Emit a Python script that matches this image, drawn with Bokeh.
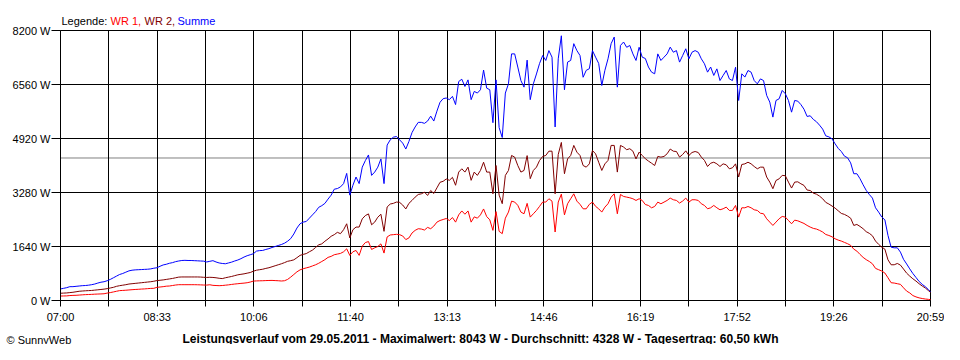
from bokeh.plotting import figure
from bokeh.models import Range1d, FixedTicker, ColumnDataSource, Label
from bokeh.embed import file_html
from bokeh.resources import INLINE

FONT = "Liberation Sans"

# time axis: minutes after 07:00, sampled every 3 minutes, last sample 20:59
MINUTES = list(range(0, 838, 3)) + [839]
END_MIN = 839

X_TICK_LABELS = ["07:00", "08:33", "10:06", "11:40", "13:13",
                 "14:46", "16:19", "17:52", "19:26", "20:59"]
Y_TICKS = [0, 1640, 3280, 4920, 6560, 8200]
Y_LABELS = ["0 W", "1640 W", "3280 W", "4920 W", "6560 W", "8200 W"]
AVERAGE = 4328

LEGEND_TEXTS = ["Legende:", "WR 1,", "WR 2,", "Summe"]
LEGEND_COLORS = ["black", "#ff0000", "#800000", "#0000ff"]
TITLE = ("Leistungsverlauf vom 29.05.2011 - Maximalwert: 8043 W - "
         "Durchschnitt: 4328 W - Tagesertrag: 60,50 kWh")
CREDIT = "\u00a9 SunnyWeb"

# WR 1 (red)
WR1 = [
    135, 138, 140, 150, 155, 158, 165, 172, 178, 182, 186, 192, 196, 200, 205, 225, 240, 260, 280, 300,
    306, 312, 320, 328, 335, 340, 347, 352, 360, 367, 370, 400, 410, 420, 435, 440, 455, 470, 480, 480,
    480, 480, 480, 480, 478, 475, 470, 468, 478,
    460, 455, 450, 455, 465, 475, 488, 500, 510, 520, 528, 540, 560, 590, 595, 598, 600, 605, 608, 610,
    605, 600, 592, 600, 640, 710, 790, 870, 930, 965, 990, 1015, 1050, 1085, 1130, 1185, 1240, 1310, 1340, 1390,
    1410, 1430, 1480, 1570, 1370, 1480, 1520,
    1370, 1650, 1760, 1790, 1550, 1600, 1640, 1720, 1440, 1930, 1990, 2000, 2010, 2000, 1960, 1850, 1900, 2050, 2130, 2180,
    2170, 2140, 2220, 2180, 2260, 2380, 2430, 2460, 2490, 2430, 2520, 2380, 2600, 2720, 2620, 2720, 2380, 2540, 2500, 2600,
    2780, 2550, 2450, 2130, 2700, 2100,
    2030, 2500, 2685, 3018, 2990, 2890, 2685, 2634, 2950, 2533, 2634, 2735, 2860, 2990, 2990, 3090, 3018, 2080, 2990, 3230,
    2600, 2938, 3090, 3240, 3018, 2920, 2785, 2785, 2920, 2990, 2860, 2785, 2685, 2836, 2938, 3140, 3240, 2634, 3220, 3160,
    3140, 3120, 3090, 3039, 3090, 3039,
    2915, 2887, 2815, 2855, 2988, 2938, 2988, 3039, 3110, 3060, 3039, 2960, 3020, 3110, 2988, 3060, 3060, 3039, 2938, 2887,
    2786, 2815, 2887, 2815, 2755, 2786, 2836, 2735, 2735, 2887, 2533, 2815, 2815, 2855, 2815, 2755, 2735, 2650, 2634, 2482,
    2381, 2280, 2381, 2482, 2553, 2533, 2431,
    2330, 2440, 2420, 2380, 2340, 2280, 2230, 2190, 2170, 2130, 2080, 2005, 1975, 1935, 1875, 1835, 1805, 1765, 1725, 1675,
    1560, 1500, 1400, 1310, 1240, 1185, 1115, 975, 935, 895, 835, 690, 540, 530, 510, 490, 385, 285, 230, 150,
    110, 80, 60, 45, 35, 25,
]

# WR 2 (dark red)
WR2 = [
    220, 225, 230, 240, 250, 265, 280, 288, 295, 300, 305, 315, 325, 335, 345, 360, 380, 400, 430, 450,
    465, 480, 500, 510, 520, 530, 540, 550, 560, 570, 585, 605, 615, 625, 640, 655, 670, 690, 710, 715,
    715, 715, 715, 715, 715, 712, 705, 700, 705,
    700, 690, 675, 665, 690, 710, 730, 755, 780, 795, 810, 830, 850, 890, 920, 935, 950, 975, 995, 1025,
    1055, 1085, 1115, 1150, 1190, 1210, 1235, 1300, 1370, 1400, 1425, 1480, 1530, 1610, 1690, 1720, 1800, 1870, 1950, 2000,
    2070, 2030, 2150, 2330, 1900, 2150, 2230,
    2230, 2480, 2580, 2630, 2300, 2380, 2530, 2620, 2100, 2840, 2930, 2950, 2990, 2980, 2900, 2780, 2950, 3040, 3140, 3220,
    3240, 3290, 3190, 3340, 3250, 3420, 3590, 3620, 3690, 3650, 3740, 3500, 3900, 4000, 3900, 4050, 3650, 3900, 3800, 3950,
    4200, 3900, 3900, 3240, 4100, 3200,
    2940, 3800, 3950, 4405, 4354, 4100, 3900, 3950, 4400, 3700, 3950, 4050, 4253, 4375, 4405, 4535, 4535, 3240, 4435, 4800,
    3850, 4300, 4405, 4710, 4505, 4405, 4100, 4050, 4150, 4555, 4455, 4200, 3950, 4150, 4253, 4710, 4710, 3900, 4710, 4660,
    4580, 4610, 4535, 4300, 4505, 4405,
    4305, 4235, 4170, 4100, 4375, 4354, 4375, 4456, 4600, 4535, 4525, 4355, 4435, 4545, 4405, 4495, 4525, 4495, 4355, 4255,
    4070, 4170, 4200, 4150, 4070, 4150, 4120, 4000, 4030, 4150, 3750, 4130, 4150, 4200, 4150, 4070, 4000, 4050, 4050, 3750,
    3595, 3395, 3645, 3695, 3800, 3790, 3595,
    3415, 3595, 3605, 3545, 3495, 3355, 3340, 3260, 3230, 3170, 3090, 2980, 2930, 2870, 2805, 2725, 2645, 2615, 2565, 2500,
    2280, 2310, 2250, 2180, 2090, 2040, 1965, 1805, 1705, 1620, 1560, 1235, 1085, 1085, 1125, 1075, 955, 830, 740, 660,
    590, 510, 440, 380, 300, 245,
]

# Summe (blue)
SUMME = [
    350, 370, 390, 420, 420, 430, 440, 450, 455, 465, 480, 500, 530, 555, 570, 600, 640, 690, 740, 790,
    820, 860, 900, 920, 930, 935, 940, 945, 950, 960, 980, 995, 1040, 1080, 1100, 1130, 1150, 1180, 1200, 1215,
    1220, 1215, 1215, 1210, 1205, 1200, 1195, 1170, 1190,
    1210, 1170, 1140, 1125, 1116, 1140, 1165, 1200, 1230, 1270, 1320, 1360, 1390, 1420, 1500, 1515, 1520, 1550, 1575, 1610,
    1640, 1670, 1700, 1740, 1800, 1880, 2020, 2200, 2330, 2380, 2400, 2500, 2600, 2700, 2830, 2880, 2950, 3080, 3200, 3380,
    3400, 3450, 3550, 3860, 3200, 3500, 3750,
    3550, 4050, 4250, 4420, 3800, 3900, 4050, 4300, 3550, 4720, 4880, 4960, 4980, 4880, 4780, 4600, 4830, 5100, 5270, 5410,
    5410, 5380, 5450, 5600, 5450, 5750, 6020, 6130, 6150, 6100, 6200, 5950, 6650, 6720, 6500, 6700, 6100, 6350, 6300, 6400,
    7000, 6450, 6400, 5400, 6700, 5250,
    4950, 6300, 6580, 7490, 7490, 7090, 6680, 6480, 7300, 6100, 6580, 6880, 7200, 7440, 7290, 7590, 7390, 5270, 7340, 8040,
    6400, 7240, 7290, 7800, 7590, 7440, 6780, 6990, 7040, 7590, 7390, 7200, 6530, 6990, 7340, 7800, 8000, 6480, 7745, 7850,
    7690, 7745, 7490, 7290, 7690, 7390,
    7350, 7090, 6935, 6885, 7490, 7290, 7390, 7490, 7695, 7540, 7590, 7240, 7440, 7645, 7340, 7540, 7590, 7540, 7340, 7190,
    6935, 7090, 6835, 7035, 6680, 6835, 6985, 6730, 6680, 7085, 6075, 6885, 6785, 6985, 6935, 6680, 6580, 6730, 6680, 6230,
    6025, 5570, 6075, 6125, 6380, 6280, 6075,
    5720, 6075, 6055, 5950, 5810, 5590, 5610, 5500, 5430, 5325, 5205, 5000, 4970, 4910, 4760, 4620, 4525, 4385, 4335, 4180,
    3850, 3850, 3700, 3515, 3345, 3220, 3110, 2815, 2685, 2535, 2450, 1975, 1620, 1600, 1600, 1470, 1250, 1110, 960, 820,
    700, 580, 490, 420, 330, 270,
]

assert len(WR1) == len(WR2) == len(SUMME) == len(MINUTES), (len(WR1), len(WR2), len(SUMME), len(MINUTES))

# ---- layout (pixels) ----
W, H = 944, 344
PLOT_L, PLOT_R, PLOT_T, PLOT_B = 60, 930, 30, 300   # data area inside the canvas

x_per_px = END_MIN / (PLOT_R - PLOT_L)
y_per_px = Y_TICKS[-1] / (PLOT_B - PLOT_T)
x_range = Range1d(-PLOT_L * x_per_px, END_MIN + (W - PLOT_R) * x_per_px)
y_range = Range1d(-(H - PLOT_B) * y_per_px, Y_TICKS[-1] + PLOT_T * y_per_px)

p = figure(width=W, height=H, output_backend="svg", toolbar_location=None,
           x_range=x_range, y_range=y_range, min_border=0)
p.background_fill_color = "white"
p.border_fill_color = "white"
p.outline_line_color = None

n_grid = 2 * (len(X_TICK_LABELS) - 1)
x_ticks = [round(END_MIN * k / n_grid, 2) for k in range(n_grid + 1)]
x_over = {}
for k, tck in enumerate(x_ticks):
    x_over[tck] = X_TICK_LABELS[k // 2] if k % 2 == 0 else ""

p.xgrid.ticker = FixedTicker(ticks=x_ticks)
p.xgrid.bounds = (0, END_MIN)
p.xgrid.cross_bounds = (Y_TICKS[0], Y_TICKS[-1])
p.ygrid.ticker = FixedTicker(ticks=Y_TICKS)
p.ygrid.bounds = (Y_TICKS[0], Y_TICKS[-1])
p.ygrid.cross_bounds = (0, END_MIN)
for g in (p.xgrid, p.ygrid):
    g.grid_line_color = "black"
    g.grid_line_alpha = 1
    g.grid_line_width = 1

p.xaxis.fixed_location = Y_TICKS[0]
p.xaxis.bounds = (0, END_MIN)
p.xaxis.ticker = FixedTicker(ticks=x_ticks)
p.xaxis.major_label_overrides = x_over
p.xaxis.major_tick_out = 6
p.xaxis.major_label_standoff = 4

p.yaxis.fixed_location = 0
p.yaxis.bounds = (Y_TICKS[0], Y_TICKS[-1])
p.yaxis.ticker = FixedTicker(ticks=Y_TICKS)
p.yaxis.major_label_overrides = dict(zip(Y_TICKS, Y_LABELS))
p.yaxis.major_tick_out = 9
p.yaxis.major_label_standoff = 1
for ax in (p.xaxis, p.yaxis):
    ax.major_tick_in = 0
    ax.minor_tick_line_color = None
    ax.axis_line_color = "black"
    ax.major_tick_line_color = "black"
    ax.major_label_text_font = FONT
    ax.major_label_text_font_size = "11px"
    ax.major_label_text_color = "black"

# average line (Durchschnitt)
p.segment(x0=[MINUTES[0]], x1=[MINUTES[-1]], y0=[AVERAGE], y1=[AVERAGE],
          line_color="#808080", line_width=1, level="underlay")

source = ColumnDataSource(data=dict(t=MINUTES, wr1=WR1, wr2=WR2, summe=SUMME))
p.line("t", "wr1", source=source, line_color="#ff0000", line_width=1)
p.line("t", "wr2", source=source, line_color="#800000", line_width=1)
p.line("t", "summe", source=source, line_color="#0000ff", line_width=1)


def label(text, x, baseline_from_top, color="black", align="left", style="normal", size="11px"):
    p.add_layout(Label(x=x, y=H - baseline_from_top, x_units="screen", y_units="screen",
                       text=text, text_color=color, text_font=FONT, text_font_size=size,
                       text_align=align, text_baseline="alphabetic",
                       text_font_style=style))


for txt, col, lx in zip(LEGEND_TEXTS, LEGEND_COLORS, [61, 110, 144, 177]):
    label(txt, lx, 20, color=col)
label(TITLE, 480, 338, align="center", style="bold", size="12px")
label(CREDIT, 6, 339)

open("out.html", "w").write(file_html(p, INLINE))
